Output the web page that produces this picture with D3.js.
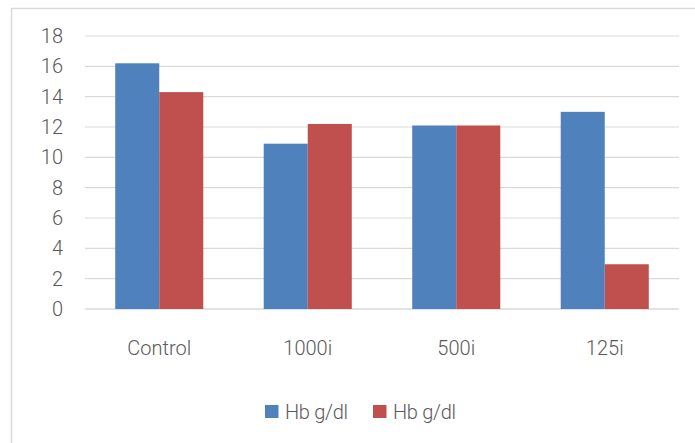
<!DOCTYPE html>
<html>
<head>
<meta charset="utf-8">
<script src="https://cdn.jsdelivr.net/npm/d3@7"></script>
<style>
  body { margin: 0; background: #fff; }
  text { font-family: Roboto, "Liberation Sans", sans-serif; fill: #595959; font-weight: 300; }
</style>
</head>
<body>
<div class="container"></div>
<script>
const w = 695
const h = 443
const categories = ["Control", "1000i", "500i", "125i"]
const seriesNames = ["Hb g/dl", "Hb g/dl"]
const series1 = [16.2, 10.9, 12.1, 13.0]
const series2 = [14.3, 12.2, 12.1, 2.95]
const yTicks = [0, 2, 4, 6, 8, 10, 12, 14, 16, 18]
const colors = ["#4F81BD", "#C0504D"]

const plot = {left: 85, right: 679, top: 36, bottom: 309}

const svg = d3.select(".container")
              .append("svg")
              .attr("width", w)
              .attr("height", h)

// outer chart frame
svg.append("rect")
    .attr("x", 11.5)
    .attr("y", 8.5)
    .attr("width", w + 10)
    .attr("height", h + 10)
    .attr("fill", "none")
    .attr("stroke", "#d9d9d9")
    .attr("stroke-width", 1.5)

const xScale = d3.scaleBand()
                .domain(categories)
                .range([plot.left, plot.right])
                .paddingInner(0.407)
                .paddingOuter(0.2035)

const subScale = d3.scaleBand()
                .domain([0, 1])
                .range([0, xScale.bandwidth()])

const yScale = d3.scaleLinear()
                .domain([0, 18])
                .range([plot.bottom, plot.top])

// gridlines
svg.append("g")
    .selectAll("line")
    .data(yTicks)
    .enter()
    .append("line")
      .attr("x1", plot.left)
      .attr("x2", plot.right)
      .attr("y1", d => yScale(d))
      .attr("y2", d => yScale(d))
      .attr("stroke", "#d9d9d9")
      .attr("stroke-width", d => d === 0 ? 1.5 : 1.2)

const data = categories.map((c, i) => ({cat: c, vals: [series1[i], series2[i]]}))

svg.append("g")
    .selectAll("g")
    .data(data)
    .enter()
    .append("g")
      .attr("transform", d => `translate(${xScale(d.cat)},0)`)
    .selectAll("rect")
    .data(d => d.vals)
    .enter()
    .append("rect")
      .attr("x", (d, i) => subScale(i))
      .attr("y", d => yScale(d))
      .attr("width", subScale.bandwidth())
      .attr("height", d => yScale(0) - yScale(d))
      .attr("fill", (d, i) => colors[i])

// y axis labels
const yAxis = d3.axisLeft(yScale)
                .tickValues(yTicks)
                .tickSize(0)
                .tickPadding(0)

const gy = svg.append("g")
    .attr("transform", `translate(63,0)`)
    .call(yAxis)
gy.select(".domain").remove()
gy.selectAll("text")
    .attr("font-size", 20)
    .attr("font-family", "Roboto, sans-serif")
    .attr("font-weight", 300)
    .attr("fill", "#595959")

// x axis labels
const xAxis = d3.axisBottom(xScale)
                .tickSize(0)
                .tickPadding(0)

const gx = svg.append("g")
    .attr("transform", `translate(0,${plot.bottom})`)
    .call(xAxis)
gx.select(".domain").remove()
gx.selectAll("text")
    .attr("y", 46)
    .attr("dy", 0)
    .attr("font-size", 20)
    .attr("font-family", "Roboto, sans-serif")
    .attr("font-weight", 300)
    .attr("fill", "#595959")

// legend
const legendX = [265, 373]
const legend = svg.append("g")
    .selectAll("g")
    .data(seriesNames)
    .enter()
    .append("g")
      .attr("transform", (d, i) => `translate(${legendX[i]},405)`)

legend.append("rect")
    .attr("width", 13.5)
    .attr("height", 13)
    .attr("fill", (d, i) => colors[i])

legend.append("text")
    .attr("x", 20)
    .attr("y", 14)
    .attr("font-size", 20)
    .attr("letter-spacing", -0.3)
    .text(d => d)
</script>
</body>
</html>
